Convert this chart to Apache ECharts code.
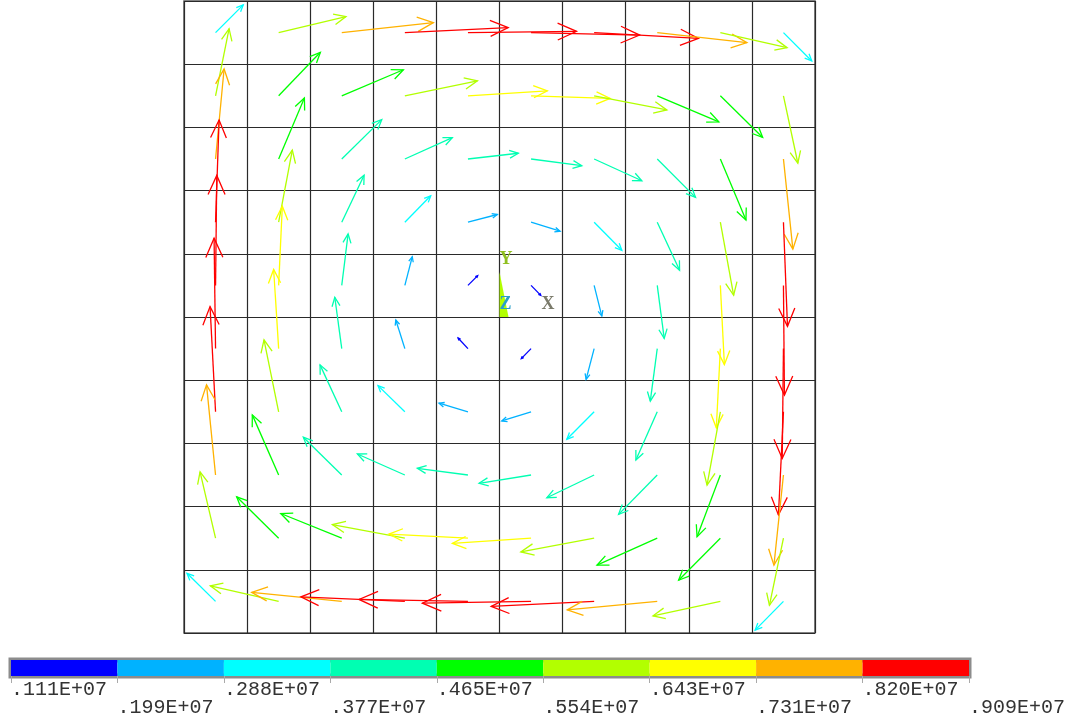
<!DOCTYPE html>
<html>
<head>
<meta charset="utf-8">
<script src="https://cdn.jsdelivr.net/npm/echarts@6/dist/echarts.min.js"></script>
<style>
html,body{margin:0;padding:0;background:#fff;}
#chart{width:1084px;height:722px;}
</style>
</head>
<body>
<div id="chart"></div>
<script>
// Vector components (x 1e6), rows listed from top to bottom, columns left to right
const U = [
  [ 2.27, 5.52, 7.51, 8.47, 8.90, 8.90, 8.55, 7.35, 5.47, 2.32],
  [ 1.11, 3.42, 5.05, 5.95, 6.51, 6.48, 5.96, 5.05, 3.47, 1.18],
  [ 0.70, 2.11, 3.28, 3.89, 4.13, 4.16, 3.91, 3.14, 2.10, 0.77],
  [ 0.29, 1.12, 1.83, 2.12, 2.41, 2.38, 2.27, 1.83, 1.09, 0.33],
  [ 0.10, 0.30, 0.52, 0.61, 0.80, 0.80, 0.63, 0.57, 0.33, 0.08],
  [-0.12,-0.41,-0.57,-0.74,-0.81,-0.80,-0.66,-0.57,-0.33,-0.10],
  [-0.45,-1.20,-1.78,-2.20,-2.37,-2.40,-2.24,-1.75,-1.09,-0.41],
  [-0.74,-2.16,-3.15,-3.89,-4.15,-4.26,-3.88,-3.17,-1.91,-0.78],
  [-1.27,-3.44,-5.00,-5.94,-6.48,-6.45,-6.01,-4.94,-3.42,-1.15],
  [-2.34,-5.60,-7.38,-8.52,-8.93,-8.91,-8.44,-7.38,-5.52,-2.32]
];
const V = [
  [ 2.27, 1.31, 0.82, 0.41, 0.10,-0.20,-0.47,-0.82,-1.23,-2.32],
  [ 5.49, 3.56, 2.13, 1.23, 0.41,-0.21,-1.15,-2.13,-3.41,-5.52],
  [ 7.37, 5.00, 3.22, 1.75, 0.47,-0.55,-1.78,-3.14,-5.00,-7.38],
  [ 8.36, 5.90, 3.85, 2.16, 0.63,-0.74,-2.30,-3.93,-5.98,-8.52],
  [ 9.00, 6.48, 4.21, 2.35, 0.80,-0.82,-2.51,-4.34,-6.48,-8.98],
  [ 9.04, 6.48, 4.20, 2.34, 0.87,-0.82,-2.52,-4.30,-6.48,-8.99],
  [ 8.61, 5.89, 3.84, 2.14, 0.70,-0.75,-2.25,-3.95,-6.00,-8.44],
  [ 7.38, 4.92, 3.09, 1.72, 0.55,-0.68,-1.86,-3.22,-5.06,-7.38],
  [ 5.43, 3.39, 2.02, 1.12, 0.33,-0.43,-1.12,-2.21,-3.44,-5.49],
  [ 2.30, 1.28, 0.74, 0.37, 0.16,-0.14,-0.41,-0.69,-1.18,-2.35]
];
// Contour levels (x 1e6) and their labels
const LEVELS = [1.11, 1.99, 2.88, 3.77, 4.65, 5.54, 6.43, 7.31, 8.20, 9.09];
const TICK_LABELS = ['.111E+07', '.199E+07', '.288E+07', '.377E+07', '.465E+07',
                     '.554E+07', '.643E+07', '.731E+07', '.820E+07', '.909E+07'];
const COLORS = ['#0000ff', '#00b2ff', '#00ffff', '#00ffb2', '#00ff00',
                '#b2ff00', '#ffff00', '#ffb200', '#ff0000'];

const NCOL = 10, NROW = 10;
const VEC_SCALE = 12.2 / 63.1; // data units per 1e6

function colorFor(m) {
  for (let i = 0; i < COLORS.length; i++) {
    if (m < LEVELS[i + 1]) return COLORS[i];
  }
  return COLORS[COLORS.length - 1];
}

const vecData = [];
for (let r = 0; r < NROW; r++) {
  for (let c = 0; c < NCOL; c++) {
    vecData.push([c + 0.5, NROW - r - 0.5, U[r][c], V[r][c]]);
  }
}
const barData = COLORS.map((col, i) => [i]);

const chart = echarts.init(document.getElementById('chart'), null, {renderer: 'canvas'});

const option = {
  backgroundColor: '#ffffff',
  animation: false,
  grid: [
    {left: 184, top: 1, width: 631, height: 632, show: true, borderColor: '#5a5a5a', borderWidth: 1.5, backgroundColor: 'transparent'},
    {left: 11, top: 660, width: 958, height: 16, show: true, borderColor: '#8c8c8c', borderWidth: 5, backgroundColor: 'transparent'}
  ],
  xAxis: [
    {gridIndex: 0, type: 'value', min: 0, max: NCOL, interval: 1,
     axisLine: {show: false}, axisTick: {show: false}, axisLabel: {show: false},
     splitLine: {show: true, lineStyle: {color: '#2a2a2a', width: 1.2}}},
    {gridIndex: 1, type: 'value', min: 0, max: 9, interval: 1, position: 'bottom',
     axisLine: {show: false},
     axisTick: {show: true, length: 7, lineStyle: {color: '#aaaaaa', width: 1}},
     splitLine: {show: false},
     axisLabel: {show: true, interval: 0, hideOverlap: false, showMinLabel: true, showMaxLabel: true,
       align: 'left', margin: 5, fontFamily: 'Liberation Mono', fontSize: 20, lineHeight: 18,
       color: '#333333',
       formatter: function (val) {
         const i = Math.round(val);
         return (i % 2 ? '\n' : '') + TICK_LABELS[i];
       }}}
  ],
  yAxis: [
    {gridIndex: 0, type: 'value', min: 0, max: NROW, interval: 1,
     axisLine: {show: false}, axisTick: {show: false}, axisLabel: {show: false},
     splitLine: {show: true, lineStyle: {color: '#2a2a2a', width: 1.2}}},
    {gridIndex: 1, type: 'value', min: 0, max: 1, show: false}
  ],
  series: [
    {
      type: 'custom', xAxisIndex: 1, yAxisIndex: 1, data: barData, z: 2,
      renderItem: function (params, api) {
        const i = api.value(0);
        const a = api.coord([i, 1]);
        const b = api.coord([i + 1, 0]);
        return {type: 'rect', shape: {x: a[0], y: a[1], width: b[0] - a[0], height: b[1] - a[1]},
                style: {fill: COLORS[i]}};
      }
    },
    {
      type: 'custom', xAxisIndex: 0, yAxisIndex: 0, data: vecData, z: 3, clip: false,
      renderItem: function (params, api) {
        const x0 = api.value(0), y0 = api.value(1), u = api.value(2), v = api.value(3);
        const m = Math.sqrt(u * u + v * v);
        const col = colorFor(m);
        const p0 = api.coord([x0, y0]);
        const p1 = api.coord([x0 + u * VEC_SCALE, y0 + v * VEC_SCALE]);
        const dx = p1[0] - p0[0], dy = p1[1] - p0[1];
        const L = Math.sqrt(dx * dx + dy * dy);
        const ux = dx / L, uy = dy / L;
        const h = 0.19 * L, ang = 24 * Math.PI / 180;
        const ca = Math.cos(ang), sa = Math.sin(ang);
        const w1 = [p1[0] - h * (ux * ca - uy * sa), p1[1] - h * (uy * ca + ux * sa)];
        const w2 = [p1[0] - h * (ux * ca + uy * sa), p1[1] - h * (uy * ca - ux * sa)];
        return {
          type: 'group',
          children: [
            {type: 'polyline', shape: {points: [p0, p1]}, style: {stroke: col, lineWidth: 1.3, fill: null}},
            {type: 'polyline', shape: {points: [w1, p1, w2]}, style: {stroke: col, lineWidth: 1.3, fill: null}}
          ]
        };
      }
    },
    {
      type: 'custom', xAxisIndex: 0, yAxisIndex: 0, data: [[5, 5]], z: 4, clip: false,
      renderItem: function (params, api) {
        const o = api.coord([api.value(0), api.value(1)]);
        return {
          type: 'group',
          children: [
            {type: 'polygon', shape: {points: [[o[0], o[1] - 45], [o[0], o[1]], [o[0] + 9, o[1]]]},
             style: {fill: '#b2ff00'}},
            {type: 'text', x: o[0] + 0, y: o[1] - 67, style: {text: 'Y', fill: '#8fbf1f', font: 'bold 18px "Liberation Serif"'}},
            {type: 'text', x: o[0] + 0, y: o[1] - 22, style: {text: 'Z', fill: '#2a9fc8', font: 'bold 18px "Liberation Serif"'}},
            {type: 'text', x: o[0] + 42, y: o[1] - 22, style: {text: 'X', fill: '#7a7a6a', font: 'bold 18px "Liberation Serif"'}}
          ]
        };
      }
    }
  ]
};
chart.setOption(option);
</script>
</body>
</html>
